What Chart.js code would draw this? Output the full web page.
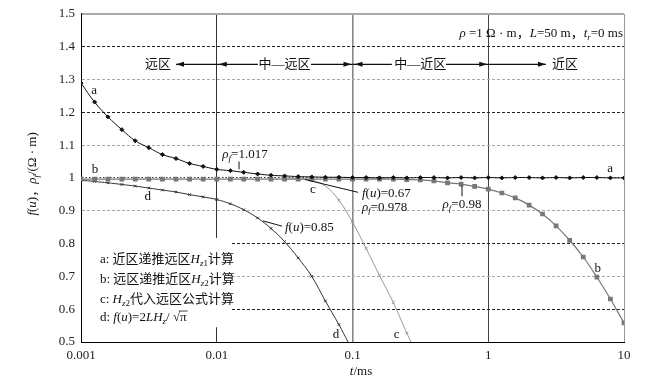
<!DOCTYPE html>
<html>
<head>
<meta charset="utf-8">
<script src="https://cdn.jsdelivr.net/npm/chart.js@4.4.1/dist/chart.umd.min.js"></script>
<style>
  html, body { margin: 0; padding: 0; background: #fff; }
  #wrap { width: 660px; height: 389px; }
</style>
</head>
<body>
<div id="wrap"><canvas id="chart" width="660" height="389"></canvas></div>
<script>
// time grid (ms), 10 points per decade
const tValues = [0.001, 0.00126, 0.00158, 0.002, 0.00251, 0.00316, 0.00398, 0.00501, 0.00631, 0.00794,
    0.01, 0.0126, 0.0158, 0.02, 0.0251, 0.0316, 0.0398, 0.0501, 0.0631, 0.0794,
    0.1, 0.126, 0.158, 0.2, 0.251, 0.316, 0.398, 0.501, 0.631, 0.794,
    1, 1.26, 1.58, 2, 2.51, 3.16, 3.98, 5.01, 6.31, 7.94, 10];

// a: 近区递推远区
const aValues = [1.289, 1.231, 1.186, 1.147, 1.113, 1.092, 1.071, 1.059, 1.044, 1.035,
    1.026, 1.022, 1.017, 1.012, 1.008, 1.006, 1.004, 1.003, 1.002, 1.002,
    1.001, 1.001, 1.0, 1.001, 1.0, 1.001, 1.001, 1.0, 1.001, 1.0,
    1.001, 1.0, 1.001, 1.001, 1.0, 1.001, 1.0, 1.001, 1.001, 1.0, 1.0];

// b: 远区递推近区
const bValues = [0.996, 0.996, 0.996, 0.996, 0.996, 0.996, 0.996, 0.996, 0.996, 0.996,
    0.996, 0.996, 0.996, 0.996, 0.996, 0.996, 0.996, 0.996, 0.996, 0.996,
    0.996, 0.996, 0.996, 0.996, 0.995, 0.994, 0.991, 0.985, 0.981, 0.974,
    0.966, 0.954, 0.939, 0.917, 0.890, 0.854, 0.810, 0.759, 0.698, 0.631, 0.558];

// c: Hz2 代入远区公式
const cTimes = [0.0316, 0.0398, 0.0501, 0.0631, 0.0794, 0.1, 0.126, 0.158, 0.2, 0.251, 0.27];
const cValues = [1.0, 0.998, 0.993, 0.975, 0.932, 0.865, 0.785, 0.703, 0.62, 0.527, 0.5];

// d: f(u)
const dTimes = [0.001, 0.00126, 0.00158, 0.002, 0.00251, 0.00316, 0.00398, 0.00501, 0.00631, 0.00794,
    0.01, 0.0126, 0.0158, 0.02, 0.0251, 0.0316, 0.0398, 0.0501, 0.0631, 0.0794, 0.0927];
const dValues = [0.993, 0.989, 0.985, 0.980, 0.975, 0.969, 0.963, 0.957, 0.949, 0.942,
    0.934, 0.921, 0.903, 0.878, 0.846, 0.806, 0.756, 0.700, 0.625, 0.553, 0.5];

const xTicks = [0.001, 0.01, 0.1, 1, 10];
const xTickLabels = ['0.001', '0.01', '0.1', '1', '10'];
const yTicks = [0.5, 0.6, 0.7, 0.8, 0.9, 1.0, 1.1, 1.2, 1.3, 1.4, 1.5];
const yTickLabels = ['0.5', '0.6', '0.7', '0.8', '0.9', '1', '1.1', '1.2', '1.3', '1.4', '1.5'];

const FAM = '"Liberation Serif", "Noto Sans CJK SC", serif';

function pairs(xs, ys) {
    return xs.map((x, i) => ({ x: x, y: ys[i] }));
}

// text pieces: N normal, I italic, S italic subscript, s roman subscript
const N = t => ({ t: t });
const I = t => ({ t: t, i: true });
const S = t => ({ t: t, i: true, sub: true });
const s = t => ({ t: t, sub: true });

function rich(ctx, x, y, parts, align, size) {
    size = size || 13;
    const fontOf = p => (p.i ? 'italic ' : '') + (p.sub ? Math.round(size * 0.72) : size) + 'px ' + FAM;
    let w = 0;
    parts.forEach(p => { ctx.font = fontOf(p); p.w = ctx.measureText(p.t).width; w += p.w; });
    let cx = align === 'center' ? x - w / 2 : (align === 'right' ? x - w : x);
    ctx.textAlign = 'left';
    ctx.textBaseline = 'middle';
    parts.forEach(p => {
        ctx.font = fontOf(p);
        ctx.fillText(p.t, cx, y + (p.sub ? 4 : 0));
        if (p.over) {
            ctx.beginPath();
            ctx.moveTo(cx - 1, y - 7);
            ctx.lineTo(cx + p.w + 1, y - 7);
            ctx.lineWidth = 0.8;
            ctx.stroke();
        }
        cx += p.w;
    });
}

function arrowHead(ctx, x, y, dir) {
    ctx.beginPath();
    ctx.moveTo(x, y);
    ctx.lineTo(x - dir * 8, y - 2.5);
    ctx.lineTo(x - dir * 8, y + 2.5);
    ctx.closePath();
    ctx.fill();
}

const notes = {
    id: 'notes',
    beforeDatasetsDraw(chart) {
        const { ctx, scales: { x, y }, chartArea } = chart;
        // white box behind the legend text
        ctx.save();
        ctx.fillStyle = '#fff';
        const x2 = x.getPixelForValue(0.01295);
        const y1 = y.getPixelForValue(0.817), y2 = y.getPixelForValue(0.545);
        ctx.fillRect(chartArea.left + 1, y1, x2 - chartArea.left - 1, y2 - y1);
        ctx.restore();
    },
    afterDraw(chart) {
        const { ctx, scales: { x, y }, chartArea } = chart;
        const px = t => x.getPixelForValue(t);
        const py = v => y.getPixelForValue(v);
        ctx.save();
        ctx.fillStyle = '#111';
        ctx.strokeStyle = '#111';

        // zone arrows
        const ay = py(1.346);
        ctx.lineWidth = 1.2;
        const seg = (t1, t2) => { ctx.beginPath(); ctx.moveTo(px(t1), ay); ctx.lineTo(px(t2), ay); ctx.stroke(); };
        seg(0.00501, 0.01); arrowHead(ctx, px(0.00501), ay, -1);
        seg(0.01, 0.0201); arrowHead(ctx, px(0.01) + 2, ay, -1);
        seg(0.0494, 0.1); arrowHead(ctx, px(0.1) - 1, ay, 1);
        seg(0.1, 0.195); arrowHead(ctx, px(0.1) + 2, ay, -1);
        seg(0.488, 1); arrowHead(ctx, px(1) - 1, ay, 1);
        seg(1, 2.66); arrowHead(ctx, px(2.66), ay, 1);
        rich(ctx, px(0.00369), ay, [N('远区')], 'center');
        rich(ctx, px(0.0316), ay, [N('中—远区')], 'center');
        rich(ctx, px(0.316), ay, [N('中—近区')], 'center');
        rich(ctx, px(3.67), ay, [N('近区')], 'center');

        // parameters
        rich(ctx, chartArea.right - 1, py(1.44),
            [I('ρ'), N(' =1 Ω · m，'), I('L'), N('=50 m，'), I('t'), S('r'), N('=0 ms')], 'right');

        // pointers
        ctx.lineWidth = 1;
        const line = (t1, v1, t2, v2) => { ctx.beginPath(); ctx.moveTo(px(t1), py(v1)); ctx.lineTo(px(t2), py(v2)); ctx.stroke(); };
        line(0.01459, 1.050, 0.01459, 1.026);
        rich(ctx, px(0.01615), py(1.071), [I('ρ'), S('f'), N('=1.017')], 'center');
        line(0.0219, 0.869, 0.0303, 0.853);
        rich(ctx, px(0.0318), py(0.850), [I('f'), N('('), I('u'), N(')=0.85')], 'left');
        line(0.0447, 0.995, 0.1099, 0.956);
        rich(ctx, px(0.1175), py(0.953), [I('f'), N('('), I('u'), N(')=0.67')], 'left');
        rich(ctx, px(0.1175), py(0.911), [I('ρ'), S('f'), N('=0.978')], 'left');
        line(0.641, 0.977, 0.641, 0.944);
        rich(ctx, px(0.641), py(0.92), [I('ρ'), S('f'), N('=0.98')], 'center');

        // curve letters
        rich(ctx, px(0.00125), py(1.267), [N('a')], 'center');
        rich(ctx, px(7.9), py(1.029), [N('a')], 'center');
        rich(ctx, px(0.00127), py(1.026), [N('b')], 'center');
        rich(ctx, px(6.4), py(0.724), [N('b')], 'center');
        rich(ctx, px(0.051), py(0.965), [N('c')], 'center');
        rich(ctx, px(0.211), py(0.524), [N('c')], 'center');
        rich(ctx, px(0.0031), py(0.944), [N('d')], 'center');
        rich(ctx, px(0.0757), py(0.524), [N('d')], 'center');

        // legend text
        const lx = px(0.00138);
        rich(ctx, lx, py(0.751), [N('a: 近区递推远区'), I('H'), S('z'), s('1'), N('计算')], 'left');
        rich(ctx, lx, py(0.690), [N('b: 远区递推近区'), I('H'), S('z'), s('2'), N('计算')], 'left');
        rich(ctx, lx, py(0.630), [N('c: '), I('H'), S('z'), s('2'), N('代入远区公式计算')], 'left');
        rich(ctx, lx, py(0.573), [N('d: '), I('f'), N('('), I('u'), N(')=2'), I('LH'), S('z'), N('/ √'), { t: 'π', over: true }], 'left');

        // axis titles
        rich(ctx, px(0.1156), chartArea.bottom + 30, [I('t'), N('/ms')], 'center');
        ctx.translate(chartArea.left - 48, (chartArea.top + chartArea.bottom) / 2 - 4);
        ctx.rotate(-Math.PI / 2);
        rich(ctx, 0, 0, [I('f'), N('('), I('u'), N(')，'), I('ρ'), S('f'), N('/(Ω · m)')], 'center');
        ctx.restore();
    }
};

const ctx = document.getElementById('chart');
new Chart(ctx, {
    type: 'line',
    data: {
        datasets: [
            {
                label: 'a',
                data: pairs(tValues, aValues),
                borderColor: '#111',
                backgroundColor: '#111',
                borderWidth: 1,
                pointStyle: 'rectRot',
                pointRadius: 2,
                tension: 0.4
            },
            {
                label: 'b',
                data: pairs(tValues, bValues),
                borderColor: '#777',
                backgroundColor: '#777',
                borderWidth: 1.2,
                pointStyle: 'rect',
                pointRadius: 2.5,
                tension: 0.4
            },
            {
                label: 'c',
                data: pairs(cTimes, cValues),
                borderColor: '#999',
                backgroundColor: '#999',
                borderWidth: 1,
                pointStyle: 'crossRot',
                pointRadius: ctx => ctx.dataIndex < 4 || ctx.dataIndex === cValues.length - 1 ? 0 : 2,
                tension: 0.4
            },
            {
                label: 'd',
                data: pairs(dTimes, dValues),
                borderColor: '#333',
                backgroundColor: '#333',
                borderWidth: 1,
                pointStyle: 'crossRot',
                pointRadius: ctx => ctx.dataIndex === dValues.length - 1 ? 0 : 1.8,
                tension: 0.4
            }
        ]
    },
    options: {
        responsive: false,
        animation: false,
        layout: { padding: { top: 11, right: 36, left: 0, bottom: 0 } },
        plugins: {
            legend: { display: false },
            tooltip: { enabled: false }
        },
        scales: {
            x: {
                type: 'logarithmic',
                min: 0.001,
                max: 10,
                afterBuildTicks: scale => { scale.ticks = xTicks.map(v => ({ value: v })); },
                afterFit: scale => { scale.height = 47; },
                ticks: {
                    padding: 6,
                    color: '#222',
                    font: { family: FAM, size: 13 },
                    autoSkip: false,
                    maxRotation: 0,
                    callback: function (value) {
                        const i = xTicks.indexOf(value);
                        return i >= 0 ? xTickLabels[i] : '';
                    }
                },
                grid: {
                    drawTicks: false,
                    color: c => {
                        const v = c.tick && c.tick.value;
                        if (v === 0.01) return '#333';
                        if (v === 0.1) return '#888';
                        if (v === 1) return '#444';
                        if (v === 10) return '#999';
                        return 'rgba(0,0,0,0)';
                    },
                    lineWidth: c => (c.tick && c.tick.value === 0.1 ? 1.6 : 1)
                },
                border: { color: '#000', width: 1 }
            },
            y: {
                min: 0.5,
                max: 1.5,
                afterBuildTicks: scale => { scale.ticks = yTicks.map(v => ({ value: v })); },
                afterFit: scale => { scale.width = 81; },
                ticks: {
                    padding: 6,
                    color: '#222',
                    font: { family: FAM, size: 13 },
                    callback: function (value) {
                        const i = yTicks.findIndex(v => Math.abs(v - value) < 1e-6);
                        return i >= 0 ? yTickLabels[i] : '';
                    }
                },
                grid: {
                    drawTicks: false,
                    color: c => {
                        const v = Math.round((c.tick ? c.tick.value : 0) * 10);
                        if (v === 5) return 'rgba(0,0,0,0)';
                        if (v === 15) return '#aaa';
                        if (v === 10) return '#333';
                        return v % 2 === 0 ? '#222' : '#aaa';
                    },
                    lineWidth: c => (c.tick && Math.round(c.tick.value * 10) === 15 ? 2 : 1)
                },
                border: {
                    color: '#000',
                    width: 1,
                    dash: c => {
                        const v = Math.round((c.tick ? c.tick.value : 0) * 10);
                        if (v === 15) return [];
                        if (v === 10) return [1.5, 2];
                        return [3, 2];
                    }
                }
            }
        }
    },
    plugins: [notes]
});
</script>
</body>
</html>
